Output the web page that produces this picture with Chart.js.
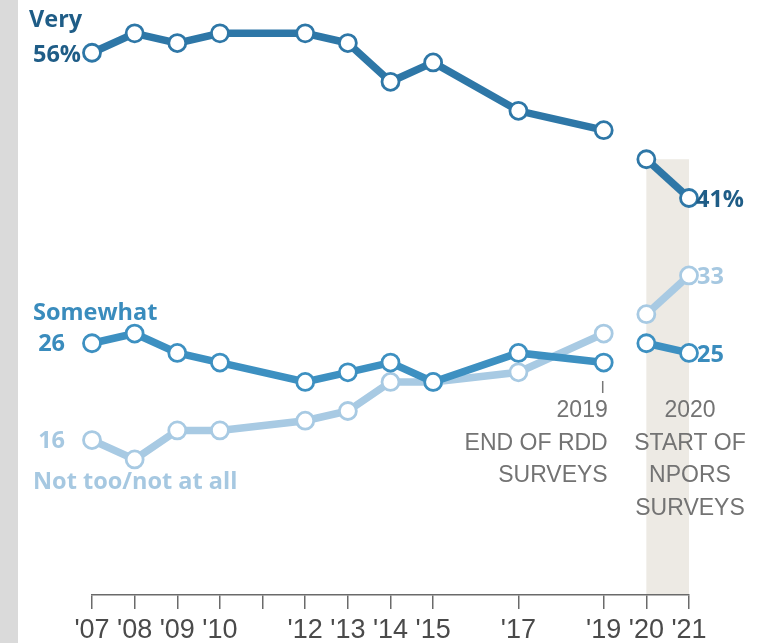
<!DOCTYPE html>
<html>
<head>
<meta charset="utf-8">
<script src="https://cdn.jsdelivr.net/npm/chart.js@4.4.1/dist/chart.umd.min.js"></script>
<style>
  html, body { margin: 0; padding: 0; background: #ffffff; }
  #wrap { position: relative; width: 775px; height: 643px; }
  canvas { display: block; }
</style>
</head>
<body>
<div id="wrap"><canvas id="c" width="775" height="643"></canvas></div>
<script>
// ---- data ----
const years = [2007, 2008, 2009, 2010, 2012, 2013, 2014, 2015, 2017, 2019, 2020, 2021];
const veryVals     = [56, 58, 57, 58, 58, 57, 53, 55, 50, 48, 45, 41];
const somewhatVals = [26, 27, 25, 24, 22, 23, 24, 22, 25, 24, 26, 25];
const notTooVals   = [16, 14, 17, 17, 18, 19, 22, 22, 23, 27, 29, 33];
const tickYears = [2007, 2008, 2009, 2010, 2011, 2012, 2013, 2014, 2015, 2017, 2019, 2020, 2021];
const tickLabels = ["'07", "'08", "'09", "'10", "", "'12", "'13", "'14", "'15", "'17", "'19", "'20", "'21"];
const gapAfterYear = 2019;          // end of RDD surveys
const shadeFrom = 2020, shadeTo = 2021, shadeTop = 45;

const C = {
  very: '#2e77a7', veryText: '#1f5d87',
  some: '#3d90c1', someText: '#3a8cbd',
  not: '#a8cae3', notText: '#a6c8e1',
  gray: '#737373', axis: '#6a6a6a', shade: '#edeae4', strip: '#dadada'
};

function pts(vals) { return years.map((y, i) => ({ x: y, y: vals[i] })); }

function ds(label, vals, color) {
  return {
    label, data: pts(vals),
    borderColor: color, backgroundColor: '#ffffff',
    pointBackgroundColor: '#ffffff', pointBorderColor: color,
    pointRadius: 8.5, pointBorderWidth: 2.8, pointHoverRadius: 8.5,
    borderWidth: 7.5, tension: 0, clip: false,
    segment: {
      borderColor: ctx => (ctx.p0.parsed.x === gapAfterYear ? 'rgba(0,0,0,0)' : undefined)
    }
  };
}

const decor = {
  id: 'decor',
  beforeDraw(chart) {
    const { ctx, scales: { x, y } } = chart;
    ctx.save();
    ctx.fillStyle = C.strip;
    ctx.fillRect(0, 0, 18, chart.height);
    const x0 = x.getPixelForValue(shadeFrom), x1 = x.getPixelForValue(shadeTo);
    const yt = y.getPixelForValue(shadeTop), yb = y.getPixelForValue(0);
    ctx.fillStyle = C.shade;
    ctx.fillRect(x0, yt, x1 - x0, yb - yt);
    ctx.restore();
  },
  afterDatasetsDraw(chart) {
    const { ctx, scales: { x, y } } = chart;
    const px = v => x.getPixelForValue(v), py = v => y.getPixelForValue(v);
    const first = years[0], last = years[years.length - 1];
    const n = years.length - 1;
    ctx.save();
    ctx.textBaseline = 'alphabetic';
    const bold = '700 23.5px "Open Sans", "Liberation Sans", Arial, sans-serif';
    // left labels
    ctx.font = bold;
    ctx.textAlign = 'left';
    ctx.fillStyle = C.veryText;
    ctx.fillText('Very', 29, py(veryVals[0]) - 26);
    ctx.textAlign = 'right';
    ctx.fillText(veryVals[0] + '%', px(first) - 11, py(veryVals[0]) + 9);
    ctx.fillStyle = C.someText;
    ctx.textAlign = 'left';
    ctx.fillText('Somewhat', 33, py(somewhatVals[0]) - 23);
    ctx.textAlign = 'right';
    ctx.fillText(String(somewhatVals[0]), px(first) - 27, py(somewhatVals[0]) + 8);
    ctx.fillStyle = C.notText;
    ctx.fillText(String(notTooVals[0]), px(first) - 27, py(notTooVals[0]) + 8);
    ctx.textAlign = 'left';
    ctx.fillText('Not too/not at all', 33, py(notTooVals[0]) + 49);
    // right labels
    ctx.textAlign = 'left';
    ctx.fillStyle = C.veryText;
    ctx.fillText(veryVals[n] + '%', px(last) + 7, py(veryVals[n]) + 9);
    ctx.fillStyle = C.notText;
    ctx.fillText(String(notTooVals[n]), px(last) + 8, py(notTooVals[n]) + 9);
    ctx.fillStyle = C.someText;
    ctx.fillText(String(somewhatVals[n]), px(last) + 8, py(somewhatVals[n]) + 9);
    // annotations
    ctx.fillStyle = C.gray;
    ctx.font = '400 23px "Liberation Sans", Arial, sans-serif';
    const ax = px(gapAfterYear) + 4;
    ctx.textAlign = 'right';
    ['2019', 'END OF RDD', 'SURVEYS'].forEach((t, i) => ctx.fillText(t, ax, 417 + i * 32.5));
    ctx.strokeStyle = '#777';
    ctx.lineWidth = 1.5;
    ctx.beginPath();
    ctx.moveTo(px(gapAfterYear) - 1, 381);
    ctx.lineTo(px(gapAfterYear) - 1, 393);
    ctx.stroke();
    ctx.textAlign = 'center';
    ['2020', 'START OF', 'NPORS', 'SURVEYS'].forEach((t, i) => ctx.fillText(t, px(shadeTo) + 1, 417 + i * 32.5));
    ctx.restore();
  }
};

new Chart(document.getElementById('c'), {
  type: 'line',
  data: {
    datasets: [
      ds('Very', veryVals, C.very),
      ds('Somewhat', somewhatVals, C.some),
      ds('Not too/not at all', notTooVals, C.not)
    ]
  },
  options: {
    responsive: false,
    animation: false,
    events: [],
    layout: { padding: { left: 92, right: 86, top: 14, bottom: 0 } },
    plugins: { legend: { display: false }, tooltip: { enabled: false } },
    scales: {
      y: { type: 'linear', min: 0, max: 60, display: false },
      x: {
        type: 'linear', min: 2007, max: 2021,
        afterBuildTicks: s => { s.ticks = tickYears.map(v => ({ value: v })); },
        afterFit: s => { s.height = 48; },
        grid: { drawOnChartArea: false, drawTicks: true, tickLength: 14, color: C.axis, lineWidth: 1.5 },
        border: { display: true, color: C.axis, width: 1.5 },
        ticks: {
          autoSkip: false, maxRotation: 0, padding: 5,
          color: '#4a4a4a',
          font: { family: '"Liberation Sans Narrow", "Liberation Sans", Arial, sans-serif', size: 27 },
          callback: (v) => { const i = tickYears.indexOf(v); return i >= 0 ? tickLabels[i] : ''; }
        }
      }
    }
  },
  plugins: [decor]
});
</script>
</body>
</html>
